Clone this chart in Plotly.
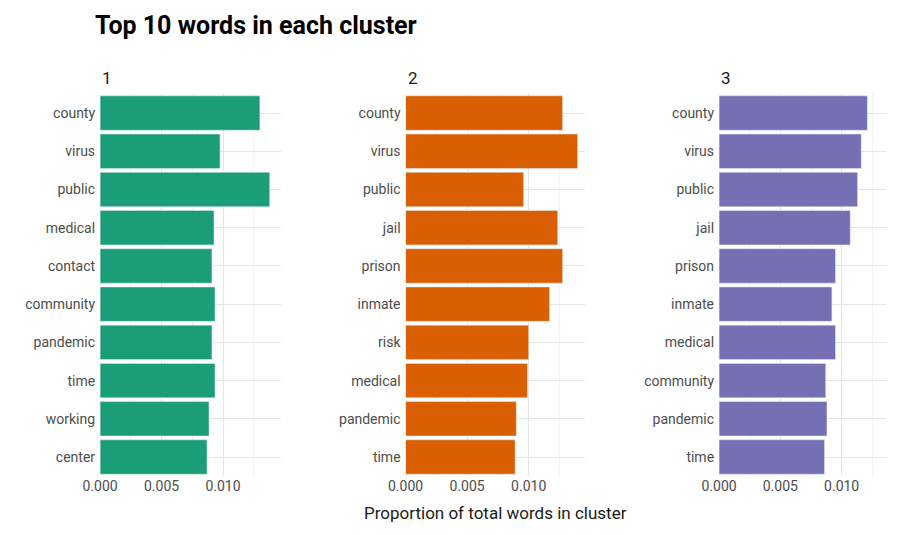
import plotly.graph_objects as go

W, H = 918, 535

words1 = ["county", "virus", "public", "medical", "contact", "community", "pandemic", "time", "working", "center"]
vals1 = [0.0130, 0.00976, 0.0138, 0.00927, 0.0091, 0.00935, 0.0091, 0.00935, 0.00886, 0.0087]
words2 = ["county", "virus", "public", "jail", "prison", "inmate", "risk", "medical", "pandemic", "time"]
vals2 = [0.01276, 0.01398, 0.00959, 0.01236, 0.01276, 0.0117, 0.0100, 0.0099, 0.0090, 0.0089]
words3 = ["county", "virus", "public", "jail", "prison", "inmate", "medical", "community", "pandemic", "time"]
vals3 = [0.0121, 0.0116, 0.0113, 0.0107, 0.0095, 0.0092, 0.0095, 0.0087, 0.0088, 0.0086]
cluster_labels = ["1", "2", "3"]
colors = ["#1B9E77", "#D95F02", "#7570B3"]


# pixel helpers, corrected for the page offset seen in the render
def px(x):
    return ((x - 24.8) / 0.982) / W


def py(y):
    return 1 - ((y - 11) / 0.989) / H


panels = [(words1, vals1, 99, 280, 0.0147),
          (words2, vals2, 405, 585, 0.0146),
          (words3, vals3, 719, 886, 0.0136)]

fig = go.Figure()
ytop, ybot = 96, 474
ann = []
for i, (w, v, x0, x1, xmax) in enumerate(panels):
    n = "" if i == 0 else str(i + 1)
    fig.add_trace(go.Bar(x=v, y=w, orientation="h", marker_color=colors[i],
                         width=0.9, xaxis="x" + n, yaxis="y" + n, showlegend=False))
    fig.layout["xaxis" + n] = dict(
        domain=[px(x0), px(x1)], range=[0, xmax], anchor="y" + n,
        tickvals=[0, 0.005, 0.010], ticktext=["0.000", "0.005", "0.010"],
        showgrid=True, gridcolor="#e5e5e5", zeroline=False,
        minor=dict(dtick=0.0025, showgrid=True, gridcolor="#f2f2f2"),
        tickfont=dict(size=14, color="#4d4d4d"), ticks="")
    fig.layout["yaxis" + n] = dict(
        domain=[py(ybot), py(ytop)], anchor="x" + n,
        categoryorder="array", categoryarray=w[::-1],
        showgrid=True, gridcolor="#e5e5e5",
        tickfont=dict(size=14, color="#4d4d4d"), ticks="", ticklabelstandoff=4)
    ann.append(dict(text=cluster_labels[i], x=px(x0), y=py(80), xref="paper", yref="paper",
                    xanchor="left", yanchor="middle", showarrow=False,
                    font=dict(size=17, color="#1a1a1a")))

ann.append(dict(text="Proportion of total words in cluster", x=px(495), y=py(510),
                xref="paper", yref="paper", showarrow=False, xanchor="center", yanchor="middle",
                font=dict(size=17, color="#1a1a1a")))
ann.append(dict(text="<b>Top 10 words in each cluster</b>", x=px(92), y=py(28),
                xref="paper", yref="paper", showarrow=False, xanchor="left", yanchor="middle",
                font=dict(size=25, color="#000000")))

fig.update_layout(width=W, height=H, margin=dict(l=0, r=0, t=0, b=0),
                  plot_bgcolor="white", paper_bgcolor="white",
                  font=dict(family="Roboto"), annotations=ann, bargap=0.1)
fig.write_html("out.html")
